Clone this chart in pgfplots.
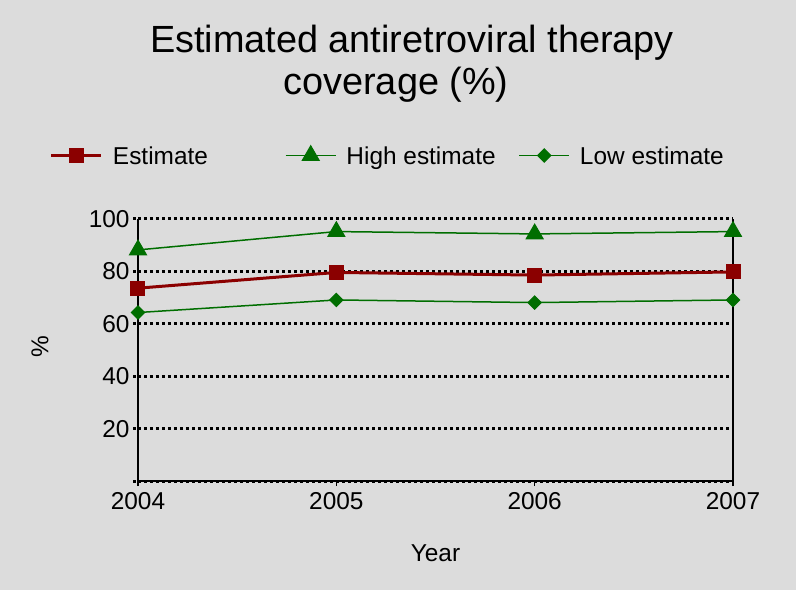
\documentclass[border=0pt]{standalone}
\usepackage{pgfplots}
\pgfplotsset{compat=1.18}
\usepackage{fontspec}
\setmainfont{Liberation Sans}
\definecolor{bg}{RGB}{220,220,220}
\definecolor{dred}{RGB}{139,0,0}
\definecolor{dgreen}{RGB}{0,110,0}
\begin{document}
\begin{tikzpicture}
\fill[bg] (-138bp,-109bp) rectangle (658bp,481bp);
\node[anchor=base, font=\fontsize{38}{42}\selectfont] at (274bp,428bp) {Estimated antiretroviral therapy};
\node[anchor=base, font=\fontsize{38}{42}\selectfont] at (258bp,386.7bp) {coverage (\%)};
\begin{axis}[
 at={(0,0)}, anchor=south west,
 scale only axis, width=595bp, height=262bp,
 xmin=2004, xmax=2007, ymin=0, ymax=100,
 axis x line*=bottom, axis y line*=box,
 xtick={2004,2005,2006,2007},
 ytick={0,20,40,60,80,100},
 yticklabels={,20,40,60,80,100},
 xtick pos=bottom, ytick pos=left,
 /pgf/number format/1000 sep={},
 /pgf/number format/assume math mode=true,
 tick label style={font=\fontsize{24.5}{28}\selectfont, black},
 xticklabel style={yshift=-3bp},
 tick align=outside,
 major tick length=5bp,
 x tick style={black, line width=1.5bp},
 y tick style={black, line width=3bp, dash pattern=on 3bp off 3bp},
 ymajorgrids,
 grid style={black, line width=3bp, dash pattern=on 3bp off 3bp},
 axis line style={black, line width=2bp},
 xlabel={Year}, ylabel={\%},
 label style={font=\fontsize{24.5}{29}\selectfont},
 xlabel style={at={(axis description cs:0.5,-0.2748)}, anchor=center},
 ylabel style={at={(axis description cs:-0.1647,0.511)}, anchor=center},
 legend columns=3,
 legend style={at={(axis description cs:-0.1479,1.2443)}, anchor=west, draw=none, fill=none, inner sep=0pt, outer sep=0pt,
   font=\fontsize{24.5}{29}\selectfont,
   nodes={inner sep=0pt, text height=17.5bp, text depth=0pt},
   /tikz/every odd column/.append style={column sep=10bp}},
 legend image code/.code={\draw[mark repeat=2,mark phase=2] plot coordinates {(0bp,0bp)(25bp,0bp)(50bp,0bp)};},
 clip=false,
]
\addplot[dred, line width=3bp, mark=square*, mark size=7bp, mark options={solid, line width=1bp}] coordinates {(2004,73.6)(2005,79.6)(2006,78.6)(2007,79.8)};
\addlegendentry{\makebox[172bp][l]{Estimate}}
\addplot[dgreen, line width=1.5bp, mark=triangle*, mark size=9.8bp, mark options={solid, line width=1bp}] coordinates {(2004,88.2)(2005,95.2)(2006,94.3)(2007,95.2)};
\addlegendentry{\makebox[172bp][l]{High estimate}}
\addplot[dgreen, line width=1.5bp, mark=square*, mark size=4.7bp, mark options={solid, line width=1bp, rotate=45}] coordinates {(2004,64.3)(2005,69.1)(2006,68.1)(2007,69.1)};
\addlegendentry{Low estimate}
\end{axis}
\end{tikzpicture}
\end{document}
